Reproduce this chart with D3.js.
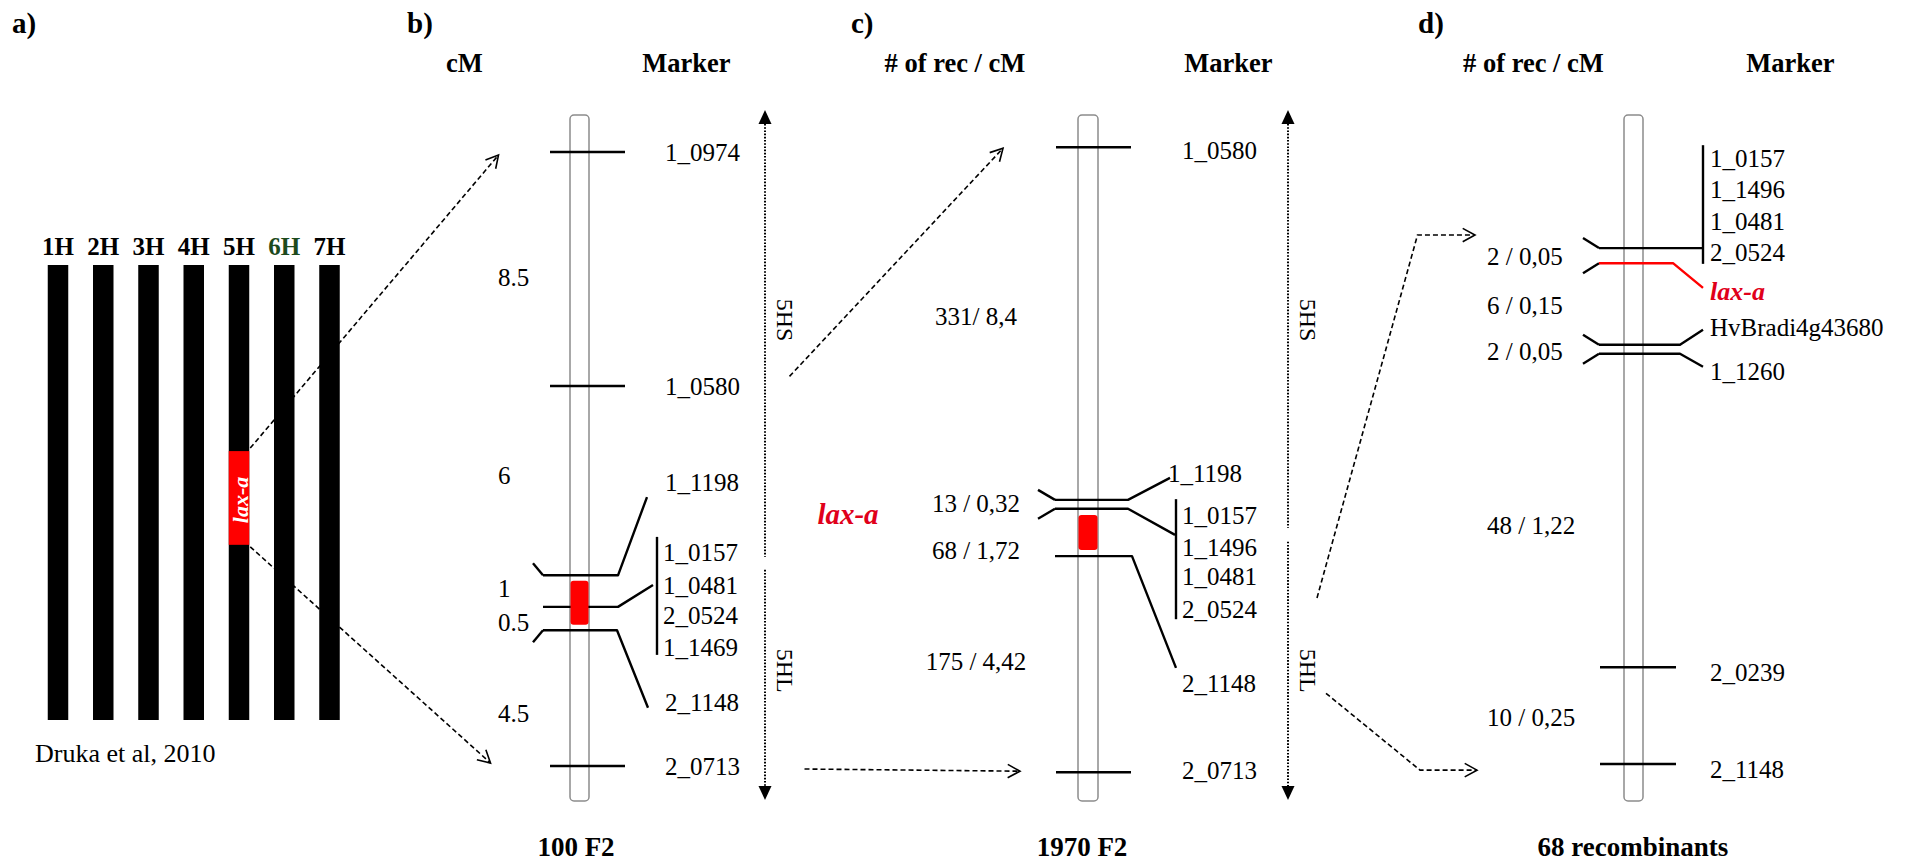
<!DOCTYPE html>
<html><head><meta charset="utf-8">
<script src="https://cdn.jsdelivr.net/npm/d3@7"></script>
<style>
html,body{margin:0;padding:0;background:#fff;}
svg{display:block;font-family:"Liberation Serif","Times New Roman",serif;}
</style>
</head><body>
<svg id="chart" width="1907" height="861"></svg>
<script>
// ================= DATA =================
// a) barley chromosomes (Druka et al, 2010)
const chromosomes = ["1H","2H","3H","4H","5H","6H","7H"];
const laxaSpanA = [40.9, 61.5];          // lax-a region on 5H (% of chromosome length)

// b) 100 F2 — map positions as % of drawn linkage group
const bLociPos = [5.4, 39.5, 67.1, 71.7, 75.1, 94.9];
const bMarkers = [["1_0974"],["1_0580"],["1_1198"],["1_0157","1_0481","2_0524","1_1469"],["2_1148"],["2_0713"]];
const bLabelPos = [[5.4],[39.5],[53.5],[63.7,68.5,72.9,77.6],[85.6],[94.9]];
const bIntervals = ["8.5","6","1","0.5","4.5"];
const bIntervalPos = [23.6, 52.5, 69.0, 73.9, 87.2];
const bLaxa = [67.9, 74.3];
const bArmBreak = [64.4, 66.3];
const bBracket = [61.5, 78.7];

// c) 1970 F2
const cLociPos = [4.7, 56.1, 57.4, 64.3, 95.8];
const cMarkers = [["1_0580"],["1_1198"],["1_0157","1_1496","1_0481","2_0524"],["2_1148"],["2_0713"]];
const cLabelPos = [[5.1],[52.2],[58.3,63.0,67.3,72.0],[82.8],[95.5]];
const cIntervals = ["331/ 8,4","13 / 0,32","68 / 1,72","175 / 4,42"];
const cIntervalPos = [29.3, 56.6, 63.4, 79.6];
const cLaxa = [58.3, 63.4];
const cArmBreak = [60.2, 62.2];
const cBracket = [56.0, 73.5];

// d) 68 recombinants
const dLociPos = [19.4, 21.6, 33.5, 34.8, 80.5, 94.6];
const dMarkers = [["1_0157","1_1496","1_0481","2_0524"],["lax-a"],["HvBradi4g43680"],["1_1260"],["2_0239"],["2_1148"]];
const dLabelPos = [[6.3,10.8,15.5,20.0],[25.7],[30.9],[37.3],[81.3],[95.3]];
const dIntervals = ["2 / 0,05","6 / 0,15","2 / 0,05","48 / 1,22","10 / 0,25"];
const dIntervalPos = [20.6, 27.8, 34.5, 59.8, 87.8];
const dBracket = [4.4, 21.7];

// ================= LAYOUT / STYLE =================
const svg = d3.select("#chart");
const Y = d3.scaleLinear().domain([0,100]).range([115,801]);
const RED = "#f00";
const FS = 25;
const lineGen = d3.line();

function text(x, y, s, o = {}) {
  const t = svg.append("text").attr("x", x).attr("y", y).text(s)
    .attr("font-size", o.size || FS)
    .attr("fill", o.fill || "#000")
    .attr("text-anchor", o.anchor || "start");
  if (o.bold) t.attr("font-weight", "bold");
  if (o.italic) t.attr("font-style", "italic");
  if (o.mid) t.attr("dy", "0.35em");
  if (o.rotate) t.attr("transform", `rotate(${o.rotate},${x},${y})`);
  return t;
}

// ---------- panel a ----------
const xA = d3.scalePoint().domain(chromosomes).range([58, 329.5]);
const yA = d3.scaleLinear().domain([0,100]).range([265,720]);
const barW = 20.5;
svg.append("g").selectAll("rect").data(chromosomes).join("rect")
  .attr("x", d => xA(d) - barW/2).attr("y", yA(0))
  .attr("width", barW).attr("height", yA(100) - yA(0)).attr("fill", "#000");
chromosomes.forEach(c => text(xA(c), 255, c, {bold:true, size:25, anchor:"middle", fill: c === "6H" ? "#1d4a1d" : "#000"}));
svg.append("rect").attr("x", xA("5H") - barW/2).attr("y", yA(laxaSpanA[0]))
  .attr("width", barW).attr("height", yA(laxaSpanA[1]) - yA(laxaSpanA[0])).attr("fill", RED);
text(xA("5H") + 1, (yA(laxaSpanA[0]) + yA(laxaSpanA[1]))/2 + 2, "lax-a",
  {bold:true, italic:true, size:22, fill:"#fff", anchor:"middle", mid:true, rotate:-90});
text(35, 762, "Druka et al, 2010", {size:26});

// ---------- generic map panel ----------
function drawMap(L, D) {
  const g = svg.append("g");
  g.append("rect").attr("x", L.cx - L.hw).attr("y", Y(0)).attr("width", 2*L.hw)
    .attr("height", Y(100) - Y(0)).attr("rx", 4).attr("fill", "#fff")
    .attr("stroke", "#8c8c8c").attr("stroke-width", 1.5);
  D.loci.forEach((p, i) => {
    const s = L.styles[i], y = Y(p), col = s.color || "#000";
    if (s.t === "tick") {
      g.append("line").attr("x1", L.cx - L.tickL).attr("x2", L.cx + L.tickR)
        .attr("y1", y).attr("y2", y).attr("stroke", "#000").attr("stroke-width", 2.6);
    } else {
      const xl = L.cx - L.lineL, xr = L.cx + (s.r || L.lineR);
      if (s.kink) g.append("path").attr("d", lineGen([[xl - L.kdx, y + s.kink*L.kdy],[xl, y]]))
        .attr("fill","none").attr("stroke","#000").attr("stroke-width", 2.4);
      const pts = [[xl, y],[xr, y]];
      if (s.to) pts.push([L.cx + s.to[0], Y(s.to[1])]);
      g.append("path").attr("d", lineGen(pts)).attr("fill","none")
        .attr("stroke", col).attr("stroke-width", 2.4).attr("stroke-linejoin","round");
    }
  });
  if (D.bracket) g.append("line").attr("x1", L.cx + L.bracketDx).attr("x2", L.cx + L.bracketDx)
    .attr("y1", Y(D.bracket[0])).attr("y2", Y(D.bracket[1])).attr("stroke","#000").attr("stroke-width", 2.4);
  if (D.laxa) g.append("rect").attr("x", L.cx - L.hw + 0.5).attr("y", Y(D.laxa[0]))
    .attr("width", 2*L.hw - 1).attr("height", Y(D.laxa[1]) - Y(D.laxa[0])).attr("rx", 3).attr("fill", RED);
  D.markers.forEach((ms, i) => ms.forEach((m, j) => {
    const s = L.styles[i];
    const isLaxa = m === "lax-a";
    text(L.cx + (s.lx || L.labelDx), Y(D.labelPos[i][j]), m,
      {mid:true, fill: isLaxa ? "#e0001a" : "#000", bold:isLaxa, italic:isLaxa, size: isLaxa ? 26 : FS});
  }));
  D.intervals.forEach((v, i) => text(L.intX, Y(D.intervalPos[i]), v, {mid:true, anchor:L.intAnchor}));
  if (D.armBreak) {
    const ax = L.cx + L.axisDx;
    const top = Y(0) - 5, bot = Y(100) - 1, th = 14, tw = 6.5;
    g.append("line").attr("x1", ax).attr("x2", ax).attr("y1", top + th).attr("y2", Y(D.armBreak[0]))
      .attr("stroke","#000").attr("stroke-width", 2).attr("stroke-dasharray","1.6,1.6");
    g.append("line").attr("x1", ax).attr("x2", ax).attr("y1", Y(D.armBreak[1])).attr("y2", bot - th)
      .attr("stroke","#000").attr("stroke-width", 2).attr("stroke-dasharray","1.6,1.6");
    g.append("path").attr("d", `M${ax},${top}L${ax+tw},${top+th}L${ax-tw},${top+th}Z`).attr("fill","#000");
    g.append("path").attr("d", `M${ax},${bot}L${ax+tw},${bot-th}L${ax-tw},${bot-th}Z`).attr("fill","#000");
    text(ax + 20, Y(29.9), "5HS", {size:24, anchor:"middle", mid:true, rotate:90});
    text(ax + 20, Y(81.0), "5HL", {size:24, anchor:"middle", mid:true, rotate:90});
  }
}

const LB = {cx:579.5, hw:9.5, tickL:29.5, tickR:45.5, lineL:36.5, lineR:38.5, kdx:10, kdy:12,
  labelDx:85.5, bracketDx:77.5, axisDx:185.5, intX:498, intAnchor:"start",
  styles:[{t:"tick"},{t:"tick"},{t:"line",kink:-1,to:[67.5,55.7]},{t:"line",kink:0,to:[73.5,68.5],lx:83.5},
          {t:"line",kink:1,r:37.5,to:[68.5,86.4]},{t:"tick"}]};
const LC = {cx:1088, hw:10, tickL:32, tickR:43, lineL:33, lineR:40, kdx:17, kdy:10,
  labelDx:94, bracketDx:88, axisDx:200, intX:976, intAnchor:"middle",
  styles:[{t:"tick"},{t:"line",kink:-1,to:[82,52.9],lx:80},{t:"line",kink:1,to:[87,61.2]},
          {t:"line",kink:0,r:44,to:[88,80.6]},{t:"tick"}]};
const LD = {cx:1633.5, hw:9.5, tickL:33.5, tickR:42.5, lineL:34.5, lineR:46.5, kdx:16, kdy:10,
  labelDx:76.5, bracketDx:69.5, intX:1487, intAnchor:"start",
  styles:[{t:"line",kink:-1,r:69.5},{t:"line",kink:1,r:39.5,to:[69.5,25.2],color:RED},
          {t:"line",kink:-1,to:[69.5,31.3]},{t:"line",kink:1,to:[69.5,36.7]},{t:"tick"},{t:"tick"}]};

drawMap(LB, {loci:bLociPos, markers:bMarkers, labelPos:bLabelPos, intervals:bIntervals,
  intervalPos:bIntervalPos, laxa:bLaxa, armBreak:bArmBreak, bracket:bBracket});
drawMap(LC, {loci:cLociPos, markers:cMarkers, labelPos:cLabelPos, intervals:cIntervals,
  intervalPos:cIntervalPos, laxa:cLaxa, armBreak:cArmBreak, bracket:cBracket});
drawMap(LD, {loci:dLociPos, markers:dMarkers, labelPos:dLabelPos, intervals:dIntervals,
  intervalPos:dIntervalPos, bracket:dBracket});

text(848, Y(58.2), "lax-a", {bold:true, italic:true, size:29, fill:"#e0001a", anchor:"middle", mid:true});

// ---------- headers ----------
[["a)",12],["b)",407],["c)",851],["d)",1418]].forEach(([s,x]) => text(x, 33, s, {bold:true, size:29}));
[["cM",464.5],["Marker",686.5],["# of rec / cM",955],["Marker",1228.5],["# of rec / cM",1533.5],["Marker",1790.5]]
  .forEach(([s,x]) => text(x, 72, s, {bold:true, size:26.5, anchor:"middle"}));
[["100 F2",576],["1970 F2",1082],["68 recombinants",1633]]
  .forEach(([s,x]) => text(x, 856, s, {bold:true, size:27, anchor:"middle"}));

// ---------- dashed connectors ----------
function connector(pts) {
  svg.append("path").attr("d", lineGen(pts)).attr("fill","none").attr("stroke","#000")
    .attr("stroke-width", 1.6).attr("stroke-dasharray","5,3");
  const [x1,y1] = pts[pts.length-2], [x2,y2] = pts[pts.length-1];
  const a = Math.atan2(y2-y1, x2-x1), len = 14, sp = 0.5;
  const h1 = [x2 - len*Math.cos(a - sp), y2 - len*Math.sin(a - sp)];
  const h2 = [x2 - len*Math.cos(a + sp), y2 - len*Math.sin(a + sp)];
  svg.append("path").attr("d", lineGen([h1,[x2,y2],h2])).attr("fill","none")
    .attr("stroke","#000").attr("stroke-width", 1.6);
}
const xR5 = xA("5H") + barW/2 + 1;
connector([[xR5, yA(laxaSpanA[0]) - 3], [LB.cx - 81, Y(bLociPos[0]) + 3]]);
connector([[xR5, yA(laxaSpanA[1]) + 2], [LB.cx - 89, Y(bLociPos[5]) - 3]]);
connector([[LB.cx + 210, Y(38.1)], [LC.cx - 85, Y(cLociPos[0]) + 1]]);
connector([[LB.cx + 225, Y(bLociPos[5]) + 3], [LC.cx - 68, Y(cLociPos[4]) - 1]]);
connector([[LC.cx + 229, Y(70.4)], [LD.cx - 216, Y(17.5)], [LD.cx - 158.5, Y(17.5)]]);
connector([[LC.cx + 238, Y(84.3)], [LD.cx - 213.5, Y(95.5)], [LD.cx - 156.5, Y(95.5)]]);
</script>
</body></html>
